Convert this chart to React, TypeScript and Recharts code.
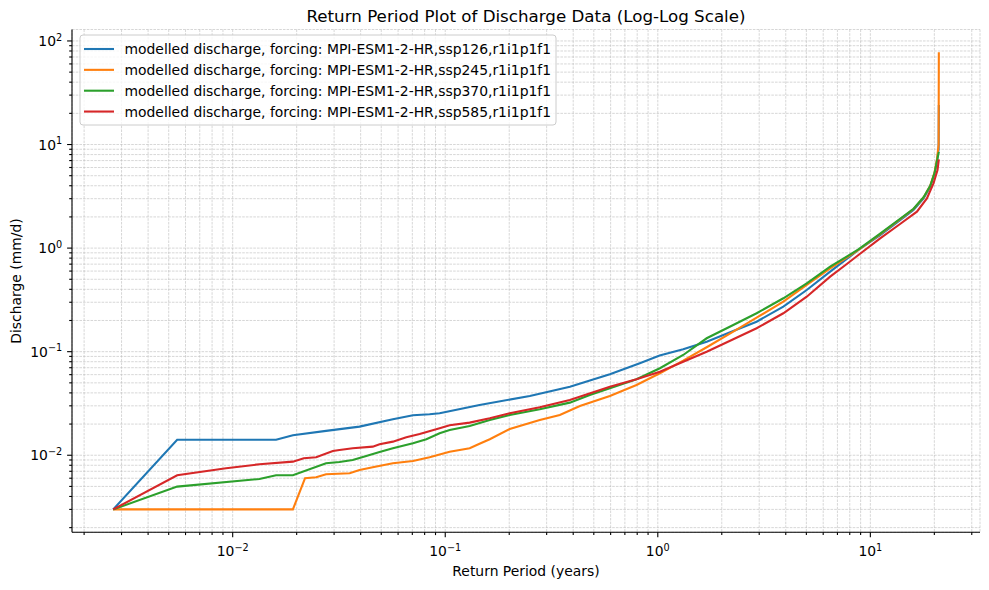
import { CartesianGrid, Line, LineChart, XAxis, YAxis } from "recharts";

// [return period (years), discharge (mm/d)]
const ssp126: [number, number][] = [
  [0.00274, 0.003], [0.00548, 0.0141], [0.016, 0.0141], [0.0192, 0.0156], [0.0275, 0.0172],
  [0.0395, 0.0189], [0.0567, 0.0223], [0.0705, 0.0243], [0.0844, 0.0249], [0.0941, 0.0254],
  [0.145, 0.0306], [0.25, 0.0374], [0.386, 0.0459], [0.595, 0.0605], [0.823, 0.0773],
  [1.02, 0.0918], [1.317, 0.1055], [1.698, 0.1249], [2.265, 0.1585], [2.917, 0.1948],
  [3.896, 0.272], [5.02, 0.394], [6.47, 0.592], [8.79, 0.959], [11.12, 1.33],
  [13.8, 1.86], [15.96, 2.33], [17.8, 3.02], [19.13, 3.91], [20.05, 5.27],
  [20.6, 7.0], [20.95, 9.0], [21.0, 24.1],
];

const ssp245: [number, number][] = [
  [0.00274, 0.003], [0.0192, 0.003], [0.0219, 0.006], [0.0247, 0.00613], [0.0275, 0.00656],
  [0.0355, 0.0067], [0.0395, 0.00721], [0.0456, 0.00766], [0.0567, 0.00837], [0.0705, 0.00881],
  [0.0844, 0.00957], [0.1049, 0.01083], [0.1303, 0.01169], [0.145, 0.0129], [0.162, 0.01427],
  [0.2011, 0.01794], [0.2784, 0.0219], [0.346, 0.0245], [0.43, 0.0299], [0.595, 0.0374],
  [0.794, 0.0477], [1.023, 0.0619], [1.317, 0.0818], [1.698, 0.1103], [2.265, 0.156],
  [2.917, 0.213], [3.896, 0.304], [5.02, 0.4406], [6.47, 0.638], [8.79, 0.959],
  [11.12, 1.36], [13.8, 1.9], [15.96, 2.38], [17.8, 3.08], [19.13, 4.0],
  [20.05, 5.4], [20.6, 7.3], [20.95, 10], [21.0, 77.6],
];

const ssp370: [number, number][] = [
  [0.00274, 0.003], [0.00548, 0.00498], [0.01336, 0.0059], [0.016, 0.00641], [0.0192, 0.00641],
  [0.0275, 0.00837], [0.0318, 0.00862], [0.0367, 0.009], [0.0425, 0.00985], [0.0491, 0.01076],
  [0.0567, 0.01169], [0.0705, 0.01306], [0.0815, 0.01427], [0.0941, 0.01631], [0.1049, 0.01754],
  [0.1303, 0.01918], [0.162, 0.0219], [0.2011, 0.0245], [0.2784, 0.0278], [0.3855, 0.0322],
  [0.4787, 0.0382], [0.595, 0.0443], [0.794, 0.0541], [1.023, 0.0692], [1.317, 0.0929],
  [1.698, 0.1347], [2.265, 0.181], [2.917, 0.2348], [3.896, 0.3277], [5.02, 0.457],
  [6.47, 0.661], [8.79, 0.97], [11.12, 1.38], [13.8, 1.92], [15.96, 2.4],
  [17.8, 3.1], [19.13, 4.0], [20.05, 5.3], [20.6, 7.0], [21.0, 8.5],
];

const ssp585: [number, number][] = [
  [0.00274, 0.003], [0.00548, 0.00641], [0.00931, 0.00749], [0.01336, 0.00818], [0.0192, 0.00867],
  [0.0216, 0.00935], [0.0247, 0.00957], [0.0296, 0.011], [0.0318, 0.01125], [0.0367, 0.01169],
  [0.0456, 0.0121], [0.0491, 0.01277], [0.0567, 0.01353], [0.0656, 0.01492], [0.0758, 0.01606],
  [0.0941, 0.01823], [0.1049, 0.01948], [0.1303, 0.02064], [0.162, 0.02275], [0.2011, 0.0254],
  [0.2784, 0.02906], [0.3855, 0.0342], [0.595, 0.0459], [0.794, 0.0541], [1.023, 0.0641],
  [1.317, 0.08], [1.698, 0.1], [2.265, 0.1318], [2.917, 0.1682], [3.896, 0.2348],
  [5.02, 0.3396], [6.47, 0.5297], [7.75, 0.702], [8.79, 0.857], [11.12, 1.243],
  [13.8, 1.708], [16.56, 2.245], [18.45, 3.02], [19.82, 4.22], [20.7, 5.67], [21.0, 7.2],
];

const xTicks = [
  0.002, 0.003, 0.004, 0.005, 0.006, 0.007, 0.008, 0.009,
  0.01, 0.02, 0.03, 0.04, 0.05, 0.06, 0.07, 0.08, 0.09,
  0.1, 0.2, 0.3, 0.4, 0.5, 0.6, 0.7, 0.8, 0.9,
  1, 2, 3, 4, 5, 6, 7, 8, 9, 10, 20, 30,
];

const yTicks = [
  0.002, 0.003, 0.004, 0.005, 0.006, 0.007, 0.008, 0.009,
  0.01, 0.02, 0.03, 0.04, 0.05, 0.06, 0.07, 0.08, 0.09,
  0.1, 0.2, 0.3, 0.4, 0.5, 0.6, 0.7, 0.8, 0.9,
  1, 2, 3, 4, 5, 6, 7, 8, 9,
  10, 20, 30, 40, 50, 60, 70, 80, 90, 100,
];

const xDomain = [0.001754, 32.8];
const yDomain = [0.001803, 129];

const series = [
  { name: "modelled discharge, forcing: MPI-ESM1-2-HR,ssp126,r1i1p1f1", color: "#1f77b4", points: ssp126 },
  { name: "modelled discharge, forcing: MPI-ESM1-2-HR,ssp245,r1i1p1f1", color: "#ff7f0e", points: ssp245 },
  { name: "modelled discharge, forcing: MPI-ESM1-2-HR,ssp370,r1i1p1f1", color: "#2ca02c", points: ssp370 },
  { name: "modelled discharge, forcing: MPI-ESM1-2-HR,ssp585,r1i1p1f1", color: "#d62728", points: ssp585 },
];

const FONT = "'DejaVu Sans', sans-serif";

const decade = (v: number) => {
  const e = Math.log10(v);
  return Math.abs(e - Math.round(e)) < 1e-6 ? Math.round(e) : null;
};

const expLabel = (e: number) => (e < 0 ? "\u2212" + Math.abs(e) : String(e));

const XTick = (props: any) => {
  const { x, y, payload } = props;
  const e = decade(payload.value);
  return (
    <g>
      <line x1={x} x2={x} y1={y} y2={y + (e === null ? 2.8 : 4.9)} stroke="#000" strokeWidth={1.1} />
      {e !== null && (
        <text x={x} y={y + 24} textAnchor="middle" fontFamily={FONT} fontSize={13.9} fill="#000">
          <tspan>10</tspan>
          <tspan dy={-5.2} fontSize={9.7}>{expLabel(e)}</tspan>
        </text>
      )}
    </g>
  );
};

const YTick = (props: any) => {
  const { x, y, payload } = props;
  const e = decade(payload.value);
  return (
    <g>
      <line x1={x} x2={x - (e === null ? 2.8 : 4.9)} y1={y} y2={y} stroke="#000" strokeWidth={1.1} />
      {e !== null && (
        <text x={x - 9.8} y={y + 5} textAnchor="end" fontFamily={FONT} fontSize={13.9} fill="#000">
          <tspan>10</tspan>
          <tspan dy={-5.2} fontSize={9.7}>{expLabel(e)}</tspan>
        </text>
      )}
    </g>
  );
};

export default function App() {
  return (
    <div style={{ position: "absolute", left: 0, top: 0, width: 989, height: 590, background: "#fff" }}>
      <LineChart width={989} height={590} margin={{ top: 29.5, right: 9, bottom: 27.7, left: 0 }}>
        <CartesianGrid stroke="#bcbcbc" strokeWidth={0.6} strokeDasharray="2.6 1.1" />
        <XAxis
          dataKey="t"
          type="number"
          scale="log"
          domain={xDomain}
          allowDataOverflow
          ticks={xTicks}
          interval={0}
          height={30}
          tickSize={0}
          tickMargin={0}
          tickLine={false}
          axisLine={{ stroke: "#000", strokeWidth: 1.1 }}
          tick={<XTick />}
        />
        <XAxis
          xAxisId="top"
          orientation="top"
          dataKey="t"
          type="number"
          scale="log"
          domain={xDomain}
          allowDataOverflow
          height={0}
          tick={false}
          tickLine={false}
          axisLine={{ stroke: "#000", strokeWidth: 1.1 }}
        />
        <YAxis
          type="number"
          scale="log"
          domain={yDomain}
          allowDataOverflow
          ticks={yTicks}
          interval={0}
          width={72}
          tickSize={0}
          tickMargin={0}
          tickLine={false}
          axisLine={{ stroke: "#000", strokeWidth: 1.1 }}
          tick={<YTick />}
        />
        <YAxis
          yAxisId="right"
          orientation="right"
          type="number"
          scale="log"
          domain={yDomain}
          allowDataOverflow
          width={0}
          tick={false}
          tickLine={false}
          axisLine={{ stroke: "#000", strokeWidth: 1.1 }}
        />
        {series.map((s) => (
          <Line
            key={s.name}
            data={s.points.map(([t, q]) => ({ t, q }))}
            dataKey="q"
            type="linear"
            stroke={s.color}
            strokeWidth={2.1}
            dot={false}
            activeDot={false}
            isAnimationActive={false}
          />
        ))}
      </LineChart>
      <svg
        width={989}
        height={590}
        style={{ position: "absolute", left: 0, top: 0, pointerEvents: "none" }}
        fontFamily={FONT}
      >
        <text x={526} y={21.5} textAnchor="middle" fontSize={16.7} fill="#000">
          Return Period Plot of Discharge Data (Log-Log Scale)
        </text>
        <text x={526} y={575.5} textAnchor="middle" fontSize={13.9} fill="#000">
          Return Period (years)
        </text>
        <text
          x={0}
          y={0}
          transform="translate(20.5,281) rotate(-90)"
          textAnchor="middle"
          fontSize={13.9}
          fill="#000"
        >
          Discharge (mm/d)
        </text>
        <rect x={80} y={35} width={476} height={90} rx={3} fill="#fff" fillOpacity={0.8} stroke="#cccccc" strokeWidth={1} />
        {series.map((s, i) => {
          const cy = 49 + i * 20.85;
          return (
            <g key={s.name}>
              <line x1={84} x2={114} y1={cy} y2={cy} stroke={s.color} strokeWidth={2.1} />
              <text x={124.5} y={cy + 5} fontSize={13.9} fill="#000">
                {s.name}
              </text>
            </g>
          );
        })}
      </svg>
    </div>
  );
}
